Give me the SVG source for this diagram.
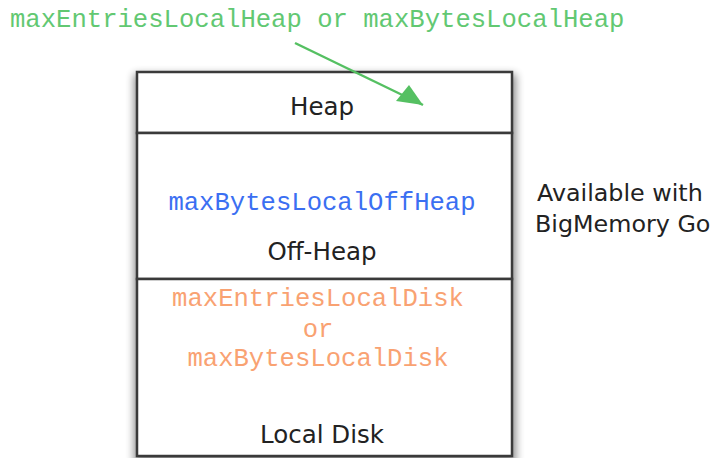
<svg xmlns="http://www.w3.org/2000/svg" width="715" height="458" viewBox="0 0 715 458">
  <style>
    .mono { font-family: "Liberation Mono", "Courier New", monospace; font-size: 25.6px; }
    .sans { font-family: "DejaVu Sans", "Lucida Grande", sans-serif; font-size: 24.5px; fill: #222; }
    .side { font-size: 23.8px; }
    .green { fill: #62c872; }
    .blue { fill: #3b6ff2; }
    .orange { fill: #f9a272; }
    .cell { fill: #fff; stroke: #3a3a3a; stroke-width: 2.5; }
  </style>
  <defs>
    <filter id="shadow" x="-10%" y="-10%" width="120%" height="120%">
      <feGaussianBlur stdDeviation="4"/>
    </filter>
  </defs>
  <rect width="715" height="458" fill="#fff"/>
  <rect x="134" y="74" width="382" height="390" fill="#000" opacity="0.45" filter="url(#shadow)"/>

  <g id="heap">
    <rect class="cell" x="137" y="72" width="375" height="61"/>
    <text class="sans" x="322" y="115" text-anchor="middle">Heap</text>
  </g>
  <g id="offheap">
    <rect class="cell" x="137" y="133" width="375" height="146"/>
    <text class="mono blue" x="322" y="210" text-anchor="middle">maxBytesLocalOffHeap</text>
    <text class="sans" x="322" y="260" text-anchor="middle">Off-Heap</text>
  </g>
  <g id="localdisk">
    <rect class="cell" x="137" y="279" width="375" height="177"/>
    <text class="mono orange" x="318" y="306" text-anchor="middle">maxEntriesLocalDisk</text>
    <text class="mono orange" x="318" y="337" text-anchor="middle">or</text>
    <text class="mono orange" x="318" y="366" text-anchor="middle">maxBytesLocalDisk</text>
    <text class="sans" x="322" y="443" text-anchor="middle">Local Disk</text>
  </g>
  <g id="heap-limit">
    <text class="mono green" x="10" y="27">maxEntriesLocalHeap or maxBytesLocalHeap</text>
  </g>
  <g id="available">
    <text class="sans side" x="537" y="201">Available with</text>
    <text class="sans side" x="535" y="232">BigMemory Go</text>
  </g>
  <g id="connectors">
    <path d="M295,43 L423,105" stroke="#55c062" stroke-width="2.5" fill="none"/>
    <polygon points="423,105 396,101 409,85" fill="#55c062"/>
  </g>
</svg>
